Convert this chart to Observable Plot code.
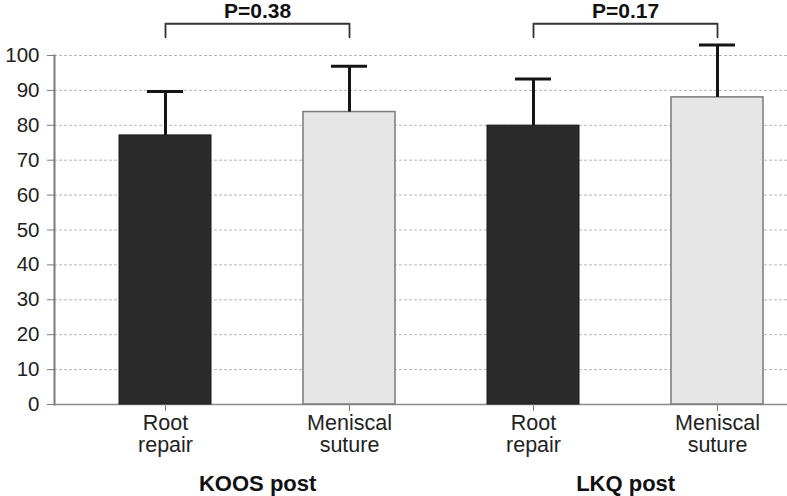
<!DOCTYPE html>
<html><head><meta charset="utf-8">
<script src="https://cdn.jsdelivr.net/npm/d3@7"></script>
<script src="https://cdn.jsdelivr.net/npm/@observablehq/plot@0.6"></script>
<style>body{margin:0;background:#fff;} #chart svg{display:block;}</style>
</head><body><div id="chart"></div>
<script>
// ---- data ----
const groups = ["KOOS post", "KOOS post", "LKQ post", "LKQ post"];
const treatments = ["Root repair", "Meniscal suture", "Root repair", "Meniscal suture"];
const means = [77.1, 83.8, 79.9, 88.0];
const errorTops = [89.7, 96.9, 93.3, 103.0];
const pGroups = ["KOOS post", "LKQ post"];
const pLabels = ["P=0.38", "P=0.17"];
const bracketTop = [109.1, 109.1];
const bracketLeg = [105.2, 105.2];
const yTicks = [0, 10, 20, 30, 40, 50, 60, 70, 80, 90, 100];

const data = groups.map((g, i) => ({
  key: g + "|" + treatments[i], group: g, treatment: treatments[i],
  mean: means[i], top: errorTops[i]
}));
const keys = data.map(d => d.key);
const xRange = [72.4, 809.6];
const step = (xRange[1] - xRange[0]) / keys.length;

const bracketPts = pGroups.flatMap((g, j) => {
  const k1 = g + "|" + treatments[0], k2 = g + "|" + treatments[1];
  return [
    {group: g, key: k1, y: bracketLeg[j]},
    {group: g, key: k1, y: bracketTop[j]},
    {group: g, key: k2, y: bracketTop[j]},
    {group: g, key: k2, y: bracketLeg[j]}
  ];
});
const pData = pGroups.map((g, j) => ({key: g + "|" + treatments[0], y: bracketTop[j], label: pLabels[j]}));
const groupData = pGroups.map(g => ({key: g + "|" + treatments[0], label: g}));

const font = "'Liberation Sans', Arial, Helvetica, sans-serif";

const chart = Plot.plot({
  width: 787,
  height: 496,
  marginLeft: 54,
  marginRight: 0,
  marginTop: 55,
  marginBottom: 92,
  style: {fontFamily: font, fontSize: "20px", color: "#222", background: "#fff"},
  x: {domain: keys, range: xRange, paddingInner: 0.5, paddingOuter: 0.25},
  y: {domain: [0, 100]},
  marks: [
    Plot.ruleY(yTicks.filter(t => t > 0), {stroke: "#b8b8b8", strokeWidth: 1, strokeDasharray: "3,2"}),
    Plot.ruleY([0], {stroke: "#8a8a8a", strokeWidth: 1.5}),
    Plot.frame({anchor: "left", stroke: "#7a7a7a", strokeWidth: 2}),
    Plot.barY(data, {filter: d => d.treatment === treatments[0], x: "key", y: "mean", fill: "#2b2b2b", stroke: "#1a1a1a", strokeWidth: 1}),
    Plot.barY(data, {filter: d => d.treatment === treatments[1], x: "key", y: "mean", fill: "#e6e6e6", stroke: "#7a7a7a", strokeWidth: 1.5}),
    Plot.ruleX(data, {x: "key", y1: "mean", y2: "top", stroke: "#151515", strokeWidth: 3}),
    Plot.tickY(data, {x: "key", y: "top", stroke: "#151515", strokeWidth: 3, insetLeft: 28, insetRight: 28}),
    Plot.line(bracketPts, {x: "key", y: "y", z: "group", stroke: "#333", strokeWidth: 1.8}),
    Plot.text(pData, {x: "key", y: "y", text: "label", dx: step / 2, dy: -12, lineAnchor: "middle", fontWeight: "bold", fontSize: 21, fill: "#111"}),
    Plot.axisY({ticks: yTicks, tickSize: 7, tickPadding: 8, stroke: "#7a7a7a", fontSize: 20.5, label: null, tickFormat: d => String(d)}),
    Plot.axisX({tickSize: 7, tickPadding: 2, stroke: "#7a7a7a", fontSize: 21.5, lineHeight: 1.05, label: null,
      tickFormat: k => k.split("|")[1].replace(" ", "\n")}),
    Plot.text(groupData, {x: "key", frameAnchor: "bottom", text: "label", dx: step / 2, dy: 79, lineAnchor: "middle", fontWeight: "bold", fontSize: 22, fill: "#111"})
  ]
});
document.getElementById("chart").appendChild(chart);
</script>
</body></html>
